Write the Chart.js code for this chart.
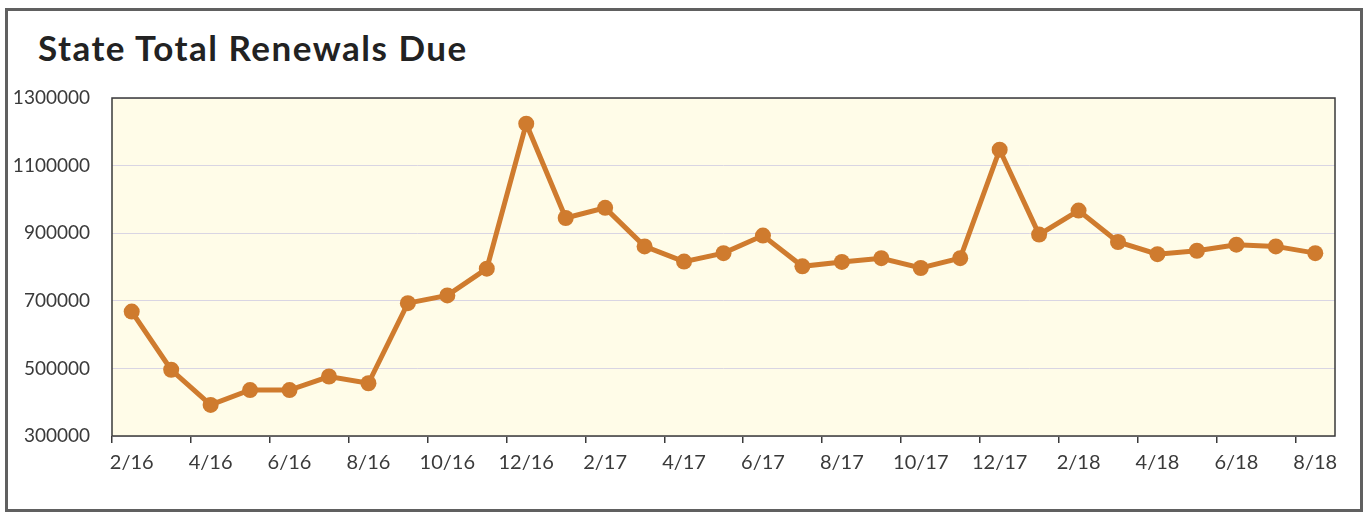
<!DOCTYPE html>
<html>
<head>
<meta charset="utf-8">
<title>State Total Renewals Due</title>
<script src="https://cdn.jsdelivr.net/npm/chart.js@4.4.1/dist/chart.umd.min.js"></script>
<style>
    html, body { margin: 0; padding: 0; background: #fff; }
    #wrap { position: relative; width: 1366px; height: 512px; }
    #frame {
        position: absolute; left: 5px; top: 8px; width: 1352px; height: 498px;
        border: 3px solid #606060;
    }
    #title {
        position: absolute; left: 38px; top: 26px; margin: 0;
        font: bold 35px Lato, sans-serif; color: #222; letter-spacing: 1.5px;
    }
    canvas { position: absolute; left: 0; top: 0; }
</style>
</head>
<body>
<div id="wrap">
    <div id="frame"></div>
    <h1 id="title">State Total Renewals Due</h1>
    <canvas id="chart" width="1366" height="512"></canvas>
</div>
<script>
// Monthly totals, 2/16 through 8/18
var months = [
    '2/16', '3/16', '4/16', '5/16', '6/16', '7/16', '8/16', '9/16', '10/16', '11/16', '12/16',
    '1/17', '2/17', '3/17', '4/17', '5/17', '6/17', '7/17', '8/17', '9/17', '10/17', '11/17', '12/17',
    '1/18', '2/18', '3/18', '4/18', '5/18', '6/18', '7/18', '8/18'
];
var renewals = [
    668000, 496000, 392000, 436000, 436000, 476000, 456000, 693000, 716000, 795000, 1224000,
    945000, 975000, 861000, 816000, 841000, 893000, 802000, 815000, 826000, 797000, 826000, 1147000,
    896000, 967000, 874000, 838000, 848000, 866000, 861000, 841000
];
var yMin = 300000;
var yMax = 1300000;
var yStep = 200000;

var lineColor = '#cf7b2e';

// Plot area fill and border
var plotArea = {
    id: 'plotArea',
    beforeDraw: function(chart) {
        var a = chart.chartArea, ctx = chart.ctx;
        ctx.save();
        ctx.fillStyle = '#fffce8';
        ctx.fillRect(a.left, a.top, a.right - a.left, a.bottom - a.top);
        ctx.restore();
    },
    afterDatasetsDraw: function(chart) {
        var a = chart.chartArea, ctx = chart.ctx;
        ctx.save();
        ctx.strokeStyle = '#3a3a3a';
        ctx.lineWidth = 1.5;
        ctx.strokeRect(a.left, a.top, a.right - a.left, a.bottom - a.top);
        ctx.restore();
    }
};

new Chart(document.getElementById('chart'), {
    type: 'line',
    data: {
        labels: months,
        datasets: [{
            label: 'Renewals Due',
            data: renewals,
            borderColor: lineColor,
            backgroundColor: lineColor,
            borderWidth: 5,
            pointRadius: 8,
            pointBorderWidth: 0,
            pointBackgroundColor: lineColor,
            tension: 0
        }]
    },
    options: {
        responsive: false,
        animation: false,
        layout: { padding: { top: 98, right: 31, bottom: 0, left: 0 } },
        plugins: {
            legend: { display: false },
            tooltip: { enabled: false }
        },
        scales: {
            x: {
                offset: true,
                afterFit: function(scale) { scale.height = 76; },
                border: { display: false },
                grid: {
                    offset: true,
                    drawOnChartArea: false,
                    drawTicks: true,
                    tickLength: 7,
                    lineWidth: 1.5,
                    color: function(ctx) { return ctx.index % 2 === 0 ? '#3a3a3a' : 'rgba(0,0,0,0)'; }
                },
                ticks: {
                    autoSkip: false,
                    maxRotation: 0,
                    padding: 8,
                    color: '#3a3a3a',
                    font: { family: 'Lato', size: 20 },
                    callback: function(value, index) { return index % 2 === 0 ? months[index] : ''; }
                }
            },
            y: {
                min: yMin,
                max: yMax,
                afterFit: function(scale) { scale.width = 112; },
                border: { display: false },
                grid: {
                    drawTicks: false,
                    color: '#d9d5e3',
                    lineWidth: 1
                },
                ticks: {
                    stepSize: yStep,
                    padding: 22,
                    color: '#3a3a3a',
                    font: { family: 'Lato', size: 19 },
                    callback: function(value) { return String(value); }
                }
            }
        }
    },
    plugins: [plotArea]
});
</script>
</body>
</html>
